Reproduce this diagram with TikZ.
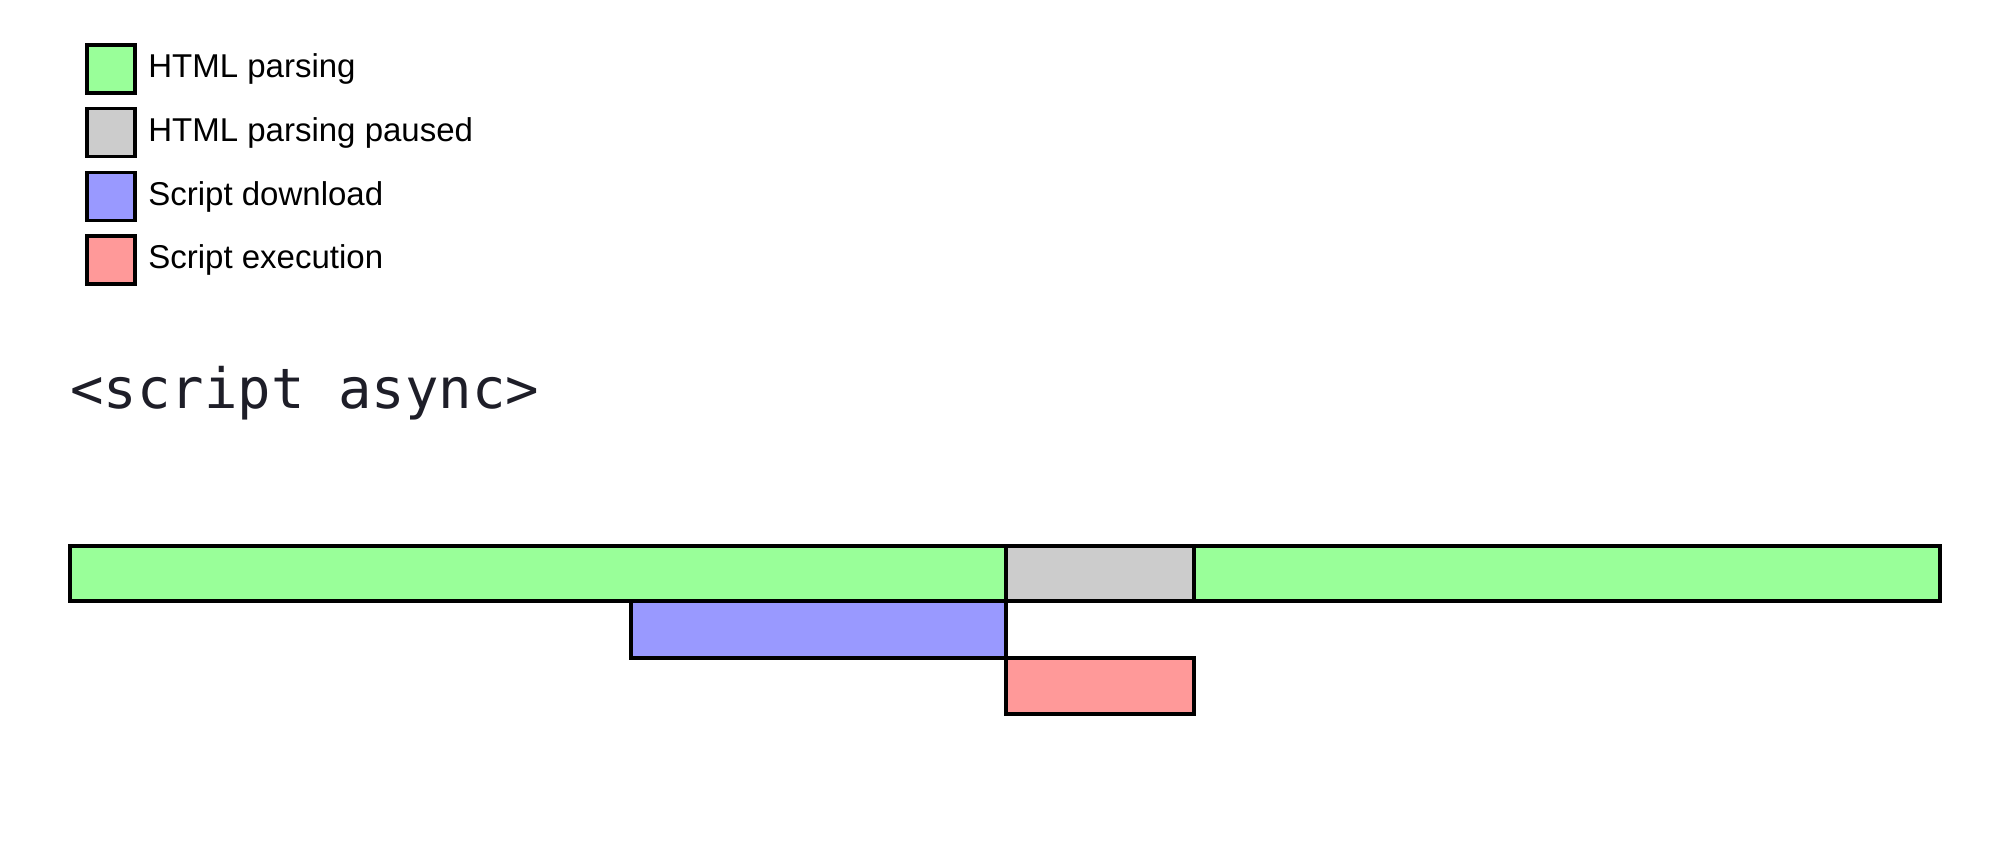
\documentclass[tikz,border=0pt]{standalone}
\usepackage{fontspec}
\setmainfont{Liberation Sans}
\newfontfamily\codefont{DejaVu Sans Mono}
\definecolor{parsegreen}{HTML}{99FF99}
\definecolor{pausegray}{HTML}{CCCCCC}
\definecolor{dlblue}{HTML}{9999FF}
\definecolor{exred}{HTML}{FF9999}
\definecolor{codeink}{HTML}{1E1E28}
\tikzset{
  bar/.style={draw=black, line width=1.9pt, inner sep=0pt, outer sep=0pt},
  legbox/.style={bar, minimum width=24pt, minimum height=24pt},
  legtext/.style={anchor=west, inner sep=0pt, font=\fontsize{16.5}{19}\selectfont},
}
\begin{document}
\begin{tikzpicture}[x=0.5pt, y=-0.5pt]
\useasboundingbox (0,0) rectangle (2000,857);
% legend
\node[legbox, fill=parsegreen] (lg1) at (111,69) {};
\node[legbox, fill=pausegray] (lg2) at (111,132.5) {};
\node[legbox, fill=dlblue] (lg3) at (111,196.5) {};
\node[legbox, fill=exred] (lg4) at (111,260) {};
\node[legtext] (lt1) at (148,69) {HTML parsing};
\node[legtext] (lt2) at (148,132.5) {HTML parsing paused};
\node[legtext] (lt3) at (148,196.5) {Script download};
\node[legtext] (lt4) at (148,260) {Script execution};
% title
\node[anchor=west, inner sep=0pt, text=codeink, font=\codefont\fontsize{27.8}{32}\selectfont] (title) at (70,393) {<script async>};
% timeline
\node[bar, fill=parsegreen, minimum width=468pt, minimum height=27.5pt] (g1) at (538,573.5) {};
\node[bar, fill=pausegray, minimum width=94pt, minimum height=27.5pt] (pause) at (1100,573.5) {};
\node[bar, fill=parsegreen, minimum width=373pt, minimum height=27.5pt] (g2) at (1567,573.5) {};
\node[bar, fill=dlblue, minimum width=187.5pt, minimum height=28.5pt] (dl) at (818.5,629.5) {};
\node[bar, fill=exred, minimum width=94pt, minimum height=28pt] (ex) at (1100,686) {};
\end{tikzpicture}
\end{document}
